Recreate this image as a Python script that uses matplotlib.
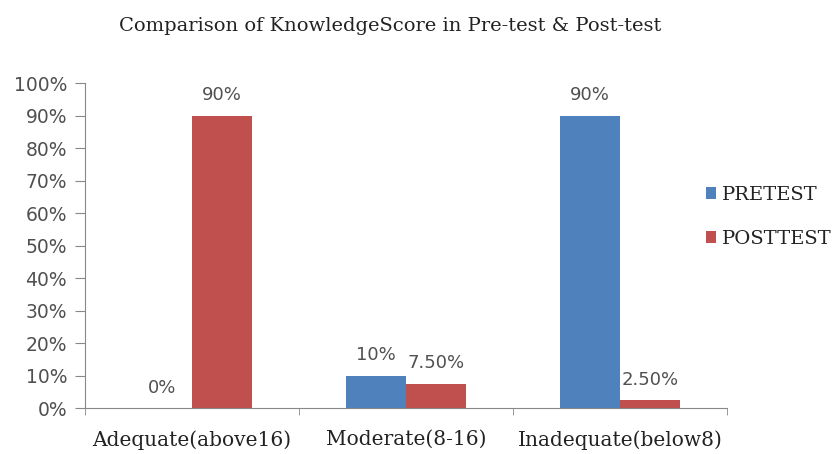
import matplotlib
matplotlib.use('Agg')
import matplotlib.pyplot as plt
import numpy as np

categories = ['Adequate(above16)', 'Moderate(8-16)', 'Inadequate(below8)']
pretest = [0, 10, 90]
posttest = [90, 7.5, 2.5]
pre_labels = ['0%', '10%', '90%']
post_labels = ['90%', '7.50%', '2.50%']
yticks = list(range(0, 101, 10))

fig = plt.figure(figsize=(8.34, 4.54), dpi=100)
ax = fig.add_axes([0.102, 0.1013, 0.770, 0.7157])

x = np.arange(len(categories))
w = 0.28
b1 = ax.bar(x - w / 2, pretest, w, color='#4F81BD', label='PRETEST')
b2 = ax.bar(x + w / 2, posttest, w, color='#C0504D', label='POSTTEST')

lab_font = dict(family='DejaVu Sans', fontsize=13, color='#505050', ha='center', va='bottom')
for xi, v, t in zip(x - w / 2, pretest, pre_labels):
    ax.text(xi, v + 3.5, t, **lab_font)
for xi, v, t in zip(x + w / 2, posttest, post_labels):
    ax.text(xi, v + 3.5, t, **lab_font)

ax.set_xlim(-0.5, 2.5)
ax.set_ylim(0, 100)
ax.set_yticks(yticks)
ax.set_yticklabels([f'{t}%' for t in yticks], family='DejaVu Sans', fontsize=13.5, color='#505050')
ax.set_xticks(x)
ax.set_xticklabels(categories, family='DejaVu Serif', fontsize=14.5, color='#222222')
ax.tick_params(axis='x', length=0, pad=16)
ax.set_xticks([-0.5, 0.5, 1.5, 2.5], minor=True)
ax.tick_params(axis='x', which='minor', length=5, color='#888888')
ax.tick_params(axis='y', length=7, color='#888888', pad=6)

for s in ['top', 'right']:
    ax.spines[s].set_visible(False)
for s in ['left', 'bottom']:
    ax.spines[s].set_color('#888888')

fig.text(0.468, 0.943, 'Comparison of KnowledgeScore in Pre-test & Post-test',
         family='DejaVu Serif', fontsize=14, color='#222222', ha='center', va='center')

leg = fig.legend(handles=[b1, b2], loc='center left', bbox_to_anchor=(0.825, 0.522),
                 frameon=False, prop={'family': 'DejaVu Serif', 'size': 14},
                 handlelength=0.55, handleheight=0.55, handletextpad=0.3, labelspacing=1.35)
for t in leg.get_texts():
    t.set_color('#222222')

fig.savefig('out.png', dpi=100)
